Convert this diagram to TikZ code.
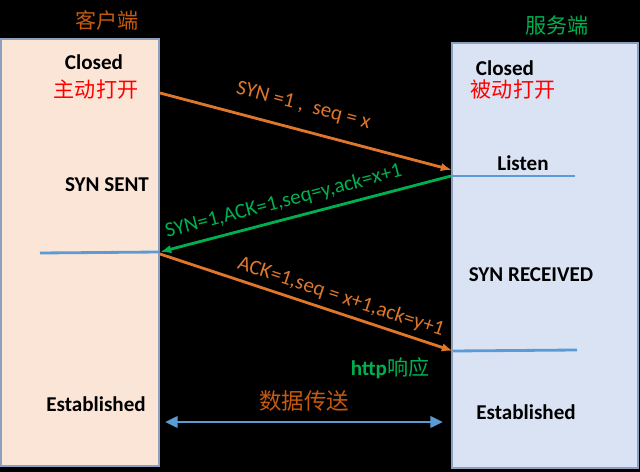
\documentclass[tikz,border=0pt]{standalone}
\usepackage{fontspec}
\setmainfont{Carlito}
\newfontfamily\cjk{Noto Sans CJK SC}
\usetikzlibrary{arrows.meta}
\definecolor{peach}{RGB}{251,229,214}
\definecolor{paleblue}{RGB}{218,227,243}
\definecolor{boxedge}{RGB}{140,160,190}
\definecolor{lineblue}{RGB}{91,155,213}
\definecolor{msgorange}{RGB}{222,118,44}
\definecolor{taborange}{RGB}{197,90,17}
\definecolor{msggreen}{RGB}{0,176,80}
\definecolor{openred}{RGB}{255,0,0}
\begin{document}
\begin{tikzpicture}[x=0.025cm,y=-0.025cm,
  lane/.style={fill=#1,draw=boxedge,line width=1pt},
  state/.style={font=\bfseries\fontsize{15}{17}\selectfont,text=black},
  opening/.style={font=\cjk\fontsize{15}{17}\selectfont,text=openred},
  msg/.style={draw=#1,line width=2pt,-{Latex[length=8pt,width=6pt]}},
  tag/.style={font=\fontsize{15}{17}\selectfont,sloped,inner sep=0pt,text=#1},
  level/.style={draw=lineblue,line width=2pt}]
\fill[black] (0,0) rectangle (640,472);
% the two sides
\draw[lane=peach] (1,39) rectangle (159,466);
\draw[lane=paleblue] (452,43) rectangle (638,468);
\node[font=\cjk\fontsize{15}{17}\selectfont,text=taborange] (client) at (107,20) {客户端};
\node[font=\cjk\fontsize{15}{17}\selectfont,text=msggreen] (server) at (557,25) {服务端};
% states
\node[state] (closedL) at (94,62) {Closed};
\node[opening] (activeopen) at (96,90) {主动打开};
\node[state] (synsent) at (107,185) {SYN SENT};
\node[state] (estL) at (96,404) {Established};
\node[state] (closedR) at (505,68) {Closed};
\node[opening] (passiveopen) at (513,90) {被动打开};
\node[state] (listen) at (523,163) {Listen};
\node[state] (synrcvd) at (531,275) {SYN RECEIVED};
\node[state] (estR) at (526,412) {Established};
\node[font=\fontsize{15}{17}\selectfont,text=msggreen] (http) at (390,368) {{\bfseries http}{\cjk 响应}};
% ends of the messages
\coordinate (synOut) at (160,93);
\coordinate (synIn) at (452,170);
\coordinate (ackOut) at (451,176);
\coordinate (ackIn) at (160,252);
\coordinate (finOut) at (160,254);
\coordinate (finIn) at (453,351);
\coordinate (dataL) at (165,422);
\coordinate (dataR) at (443,422);
\coordinate (lvlA) at (575,176);
\coordinate (lvlB) at (40,253);
\coordinate (lvlC) at (577,350);
\draw[level] (ackOut) -- (lvlA);
\draw[level] (lvlB) -- (ackIn);
\draw[level] (finIn) -- (lvlC);
\draw[msg=msgorange] (synOut) -- node[tag=msgorange,pos=.47,above=10pt] {SYN =1 ,\ \ seq = x} (synIn);
\draw[msg=msggreen] (ackOut) -- node[tag=msggreen,pos=.56,above=5pt] {SYN=1,ACK=1,seq=y,ack=x+1} (ackIn);
\draw[msg=msgorange] (finOut) -- node[tag=msgorange,pos=.6,above=4pt] {ACK=1,seq = x+1,ack=y+1} (finIn);
\draw[draw=lineblue,line width=2pt,{Triangle[length=9pt,width=8pt]}-{Triangle[length=9pt,width=8pt]}] (dataL) -- node[above=3pt,font=\cjk\fontsize{16}{18}\selectfont,text=taborange] (data) {数据传送} (dataR);
\end{tikzpicture}
\end{document}
